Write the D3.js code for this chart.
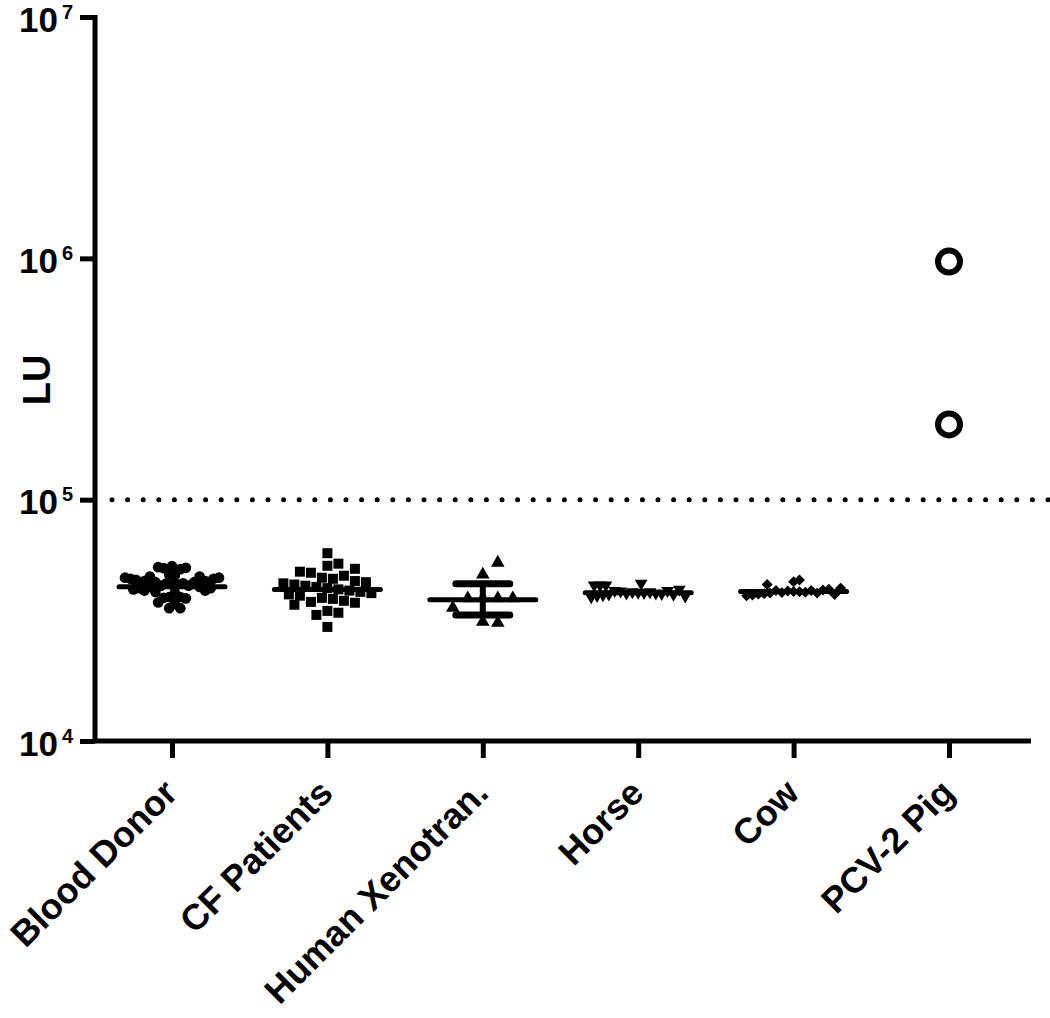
<!DOCTYPE html>
<html>
<head>
<meta charset="utf-8">
<script src="https://cdn.jsdelivr.net/npm/d3@7"></script>
<style>
  body { margin: 0; background: #fff; }
  svg text { font-family: "Liberation Sans", Arial, Helvetica, sans-serif; font-weight: bold; fill: #000; }
</style>
</head>
<body>
<div id="chart"></div>
<script>
// categories and values (LU)
const categories = ["Blood Donor", "CF Patients", "Human Xenotran.", "Horse", "Cow", "PCV-2 Pig"];

const bloodDonor = [5.3e4, 5.25e4, 5.22e4, 5.2e4, 5.15e4,
    4.9e4, 4.85e4, 4.8e4, 4.8e4, 4.75e4, 4.75e4, 4.7e4, 4.7e4,
    4.65e4, 4.6e4, 4.6e4, 4.55e4, 4.55e4, 4.5e4, 4.5e4, 4.45e4, 4.45e4, 4.4e4, 4.4e4,
    4.35e4, 4.35e4, 4.3e4, 4.3e4, 4.25e4, 4.2e4, 4.2e4, 4.15e4, 4.1e4,
    3.95e4, 3.95e4, 3.92e4, 3.9e4, 3.75e4, 3.7e4, 3.55e4, 3.55e4];
const cfPatients = [6.0e4, 5.43e4, 5.32e4, 5.17e4, 5.03e4, 4.98e4, 4.84e4, 4.75e4, 4.7e4,
    4.6e4, 4.55e4, 4.5e4, 4.45e4, 4.4e4, 4.35e4, 4.3e4, 4.25e4, 4.2e4, 4.15e4, 4.1e4, 4.05e4, 4.0e4,
    3.92e4, 3.88e4, 3.81e4, 3.77e4, 3.74e4, 3.67e4, 3.46e4, 3.4e4, 3.33e4, 2.97e4];
const humanXeno = [5.48e4, 4.89e4, 3.9e4, 3.9e4, 3.9e4, 3.9e4, 3.56e4, 3.09e4, 3.12e4];
const horse = [4.5e4, 4.42e4, 4.42e4, 4.42e4, 4.25e4, 4.2e4, 4.2e4, 4.18e4, 4.15e4, 4.15e4, 4.13e4,
    4.12e4, 4.1e4, 4.1e4, 4.08e4, 4.06e4, 4.05e4, 4.03e4, 4.0e4, 3.98e4, 3.95e4];
const cow = [4.65e4, 4.57e4, 4.45e4, 4.3e4, 4.25e4, 4.22e4, 4.2e4, 4.2e4, 4.18e4, 4.16e4, 4.15e4,
    4.13e4, 4.12e4, 4.1e4, 4.1e4, 4.08e4, 4.06e4, 4.05e4, 4.03e4, 4.0e4];
const pcv2Pig = [9.7e5, 2.05e5];

const groupValues = [bloodDonor, cfPatients, humanXeno, horse, cow, pcv2Pig];
// horizontal centre line of each group (median / mean), null = none
const centerLine = [4.36e4, 4.24e4, 3.85e4, 4.11e4, 4.16e4, null];
// error bar for Human Xenotran. (lower, upper)
const xenoErr = [3.33e4, 4.48e4];
const cutoff = 1e5;
const yTicks = [1e4, 1e5, 1e6, 1e7];

const symbols = ["circle", "square", "triangle", "triangleDown", "diamond", "open"];

const W = 1050, H = 1018;
const svg = d3.select("#chart").append("svg").attr("width", W).attr("height", H);

const y = d3.scaleLog().domain([1e4, 1e7]).range([741, 17]);
const x = d3.scalePoint().domain(categories).range([172, 949]);

// dotted cutoff line
svg.append("line")
    .attr("x1", 112).attr("x2", 1050)
    .attr("y1", y(cutoff)).attr("y2", y(cutoff))
    .attr("stroke", "#000").attr("stroke-width", 5)
    .attr("stroke-linecap", "round")
    .attr("stroke-dasharray", "0,15.6");

// axes
const yAxis = svg.append("g")
    .attr("transform", "translate(95,0)")
    .call(d3.axisLeft(y).tickValues(yTicks).tickSize(15).tickSizeOuter(0).tickFormat(""));
yAxis.select(".domain").remove();
yAxis.selectAll(".tick line").attr("stroke-width", 5);
yAxis.append("line").attr("x1", 0).attr("x2", 0).attr("y1", 15).attr("y2", 743)
    .attr("stroke", "#000").attr("stroke-width", 5);

yAxis.selectAll(".tick").append("text")
    .attr("x", -22).attr("y", 14)
    .attr("text-anchor", "end")
    .style("font-size", "35px")
    .each(function(d) {
        const t = d3.select(this);
        t.append("tspan").text("10");
        t.append("tspan").attr("dy", -13).attr("dx", 4).style("font-size", "20px").text(Math.round(Math.log10(d)));
    });

const xAxis = svg.append("g")
    .attr("transform", "translate(0,741)")
    .call(d3.axisBottom(x).tickSize(17).tickSizeOuter(0).tickFormat(""));
xAxis.select(".domain").remove();
xAxis.selectAll(".tick line").attr("stroke-width", 5);
xAxis.append("line").attr("x1", 93).attr("x2", 1031).attr("y1", 0).attr("y2", 0)
    .attr("stroke", "#000").attr("stroke-width", 5);

xAxis.selectAll(".tick").append("text")
    .attr("text-anchor", "end")
    .attr("transform", "translate(7,54) rotate(-45)")
    .style("font-size", "36px")
    .text(d => d);

// y title
svg.append("text")
    .attr("transform", "translate(50,380) rotate(-90)")
    .attr("text-anchor", "middle")
    .style("font-size", "38px")
    .text("LU");

// simple swarm layout, squeezed to fit the width of the centre line
function swarm(vals, cx, diam, halfW) {
    const pts = vals.map(v => ({ v: v, py: y(v) }));
    const mid = d3.median(pts, d => d.py);
    const order = pts.slice().sort((a, b) => Math.abs(a.py - mid) - Math.abs(b.py - mid));
    const placed = [];
    const step = diam / 2, minD = diam * 0.95;
    order.forEach(p => {
        for (let k = 0; k < 80; k++) {
            const off = (k % 2 ? 1 : -1) * Math.ceil(k / 2) * step;
            const px = cx + off;
            const hit = placed.some(q => (q.px - px) ** 2 + (q.py - p.py) ** 2 < minD * minD);
            if (!hit) { p.px = px; break; }
        }
        placed.push(p);
    });
    const maxOff = d3.max(placed, p => Math.abs(p.px - cx));
    if (maxOff > halfW) placed.forEach(p => { p.px = cx + (p.px - cx) * halfW / maxOff; });
    return placed;
}

const symSize = { circle: 90, square: 100, triangle: 80, triangleDown: 70, diamond: 60 };
const swarmDiam = { circle: 10, square: 11, triangle: 15, triangleDown: 10.5, diamond: 10 };

groupValues.forEach((vals, i) => {
    const cx = x(categories[i]);
    const kind = symbols[i];
    const g = svg.append("g").attr("class", "group");

    // centre line
    if (centerLine[i] !== null) {
        g.append("line")
            .attr("x1", cx - 53).attr("x2", cx + 53)
            .attr("y1", y(centerLine[i])).attr("y2", y(centerLine[i]))
            .attr("stroke", "#000").attr("stroke-width", 5).attr("stroke-linecap", "round");
    }
    if (i === 2) {
        g.append("line").attr("x1", cx).attr("x2", cx)
            .attr("y1", y(xenoErr[0])).attr("y2", y(xenoErr[1]))
            .attr("stroke", "#000").attr("stroke-width", 6);
        xenoErr.forEach(e => {
            g.append("line").attr("x1", cx - 27).attr("x2", cx + 27)
                .attr("y1", y(e)).attr("y2", y(e))
                .attr("stroke", "#000").attr("stroke-width", 7).attr("stroke-linecap", "round");
        });
    }

    if (kind === "open") {
        g.selectAll("circle").data(vals).enter().append("circle")
            .attr("cx", cx).attr("cy", d => y(d)).attr("r", 11)
            .attr("fill", "none").attr("stroke", "#000").attr("stroke-width", 6);
        return;
    }

    const pts = swarm(vals, cx, swarmDiam[kind], 47);
    let sym, rot = 0;
    if (kind === "circle") sym = d3.symbolCircle;
    else if (kind === "square") sym = d3.symbolSquare;
    else if (kind === "triangle") sym = d3.symbolTriangle;
    else if (kind === "triangleDown") { sym = d3.symbolTriangle; rot = 180; }
    else { sym = d3.symbolSquare; rot = 45; }
    const path = d3.symbol().type(sym).size(symSize[kind]);

    g.selectAll("path.pt").data(pts).enter().append("path")
        .attr("class", "pt")
        .attr("d", path)
        .attr("transform", d => `translate(${d.px},${d.py}) rotate(${rot})`)
        .attr("fill", "#000");
});
</script>
</body>
</html>
